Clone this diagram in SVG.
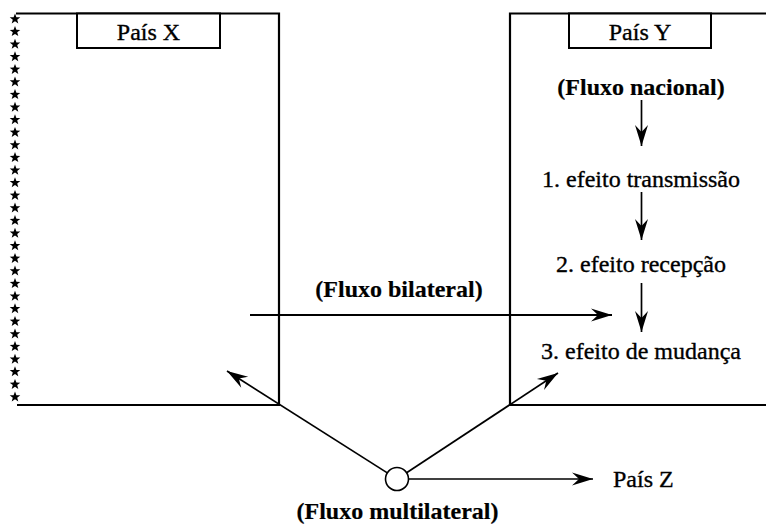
<svg xmlns="http://www.w3.org/2000/svg" xmlns:xlink="http://www.w3.org/1999/xlink" width="766" height="525" viewBox="0 0 766 525">
  <style>
    .frame { fill: none; stroke: #000; stroke-width: 2.2; }
    .tag { fill: #fff; stroke: #000; stroke-width: 2; }
    .txt { font-family: "Liberation Serif", "Times New Roman", serif; font-size: 24px; fill: #000; text-anchor: middle; stroke: #000; stroke-width: 0.35; }
    .bold { font-weight: bold; stroke-width: 0.2; }
    .arrow { fill: none; stroke: #000; stroke-width: 1.7; marker-end: url(#head); }
  </style>
  <defs>
    <marker id="head" markerUnits="userSpaceOnUse" markerWidth="24" markerHeight="16" viewBox="-22 -8 24 16" refX="0" refY="0" orient="auto">
      <path d="M0,0 L-21,-6.5 L-14,0 L-21,6.5 Z" fill="#000"/>
    </marker>
    <path id="star" d="M0,-5.5 L1.4,-1.8 L5.3,-1.7 L2.2,0.7 L3.3,4.5 L0,2.3 L-3.3,4.5 L-2.2,0.7 L-5.3,-1.7 L-1.4,-1.8 Z" fill="#000"/>
  </defs>

  <!-- Country X: open frame edged with a column of stars -->
  <g id="pais-x">
    <path class="frame" d="M16,13.5 H279 V405 H17"/>
    <rect class="tag" x="77" y="13.5" width="143" height="34.5"/>
    <text class="txt" x="148.5" y="40">País X</text>
    <g id="stars">
      <use xlink:href="#star" x="15" y="19"/>
      <use xlink:href="#star" x="15" y="31.6"/>
      <use xlink:href="#star" x="15" y="44.2"/>
      <use xlink:href="#star" x="15" y="56.8"/>
      <use xlink:href="#star" x="15" y="69.4"/>
      <use xlink:href="#star" x="15" y="82"/>
      <use xlink:href="#star" x="15" y="94.6"/>
      <use xlink:href="#star" x="15" y="107.2"/>
      <use xlink:href="#star" x="15" y="119.8"/>
      <use xlink:href="#star" x="15" y="132.4"/>
      <use xlink:href="#star" x="15" y="145"/>
      <use xlink:href="#star" x="15" y="157.6"/>
      <use xlink:href="#star" x="15" y="170.2"/>
      <use xlink:href="#star" x="15" y="182.8"/>
      <use xlink:href="#star" x="15" y="195.4"/>
      <use xlink:href="#star" x="15" y="208"/>
      <use xlink:href="#star" x="15" y="220.6"/>
      <use xlink:href="#star" x="15" y="233.2"/>
      <use xlink:href="#star" x="15" y="245.8"/>
      <use xlink:href="#star" x="15" y="258.4"/>
      <use xlink:href="#star" x="15" y="271"/>
      <use xlink:href="#star" x="15" y="283.6"/>
      <use xlink:href="#star" x="15" y="296.2"/>
      <use xlink:href="#star" x="15" y="308.8"/>
      <use xlink:href="#star" x="15" y="321.4"/>
      <use xlink:href="#star" x="15" y="334"/>
      <use xlink:href="#star" x="15" y="346.6"/>
      <use xlink:href="#star" x="15" y="359.2"/>
      <use xlink:href="#star" x="15" y="371.8"/>
      <use xlink:href="#star" x="15" y="384.4"/>
      <use xlink:href="#star" x="15" y="397"/>
    </g>
  </g>

  <!-- Country Y: frame running off the right edge -->
  <g id="pais-y">
    <path class="frame" d="M766,13.5 H510 V405 H766"/>
    <rect class="tag" x="569" y="13.5" width="142" height="34.5"/>
    <text class="txt" x="640" y="40">País Y</text>
  </g>

  <g id="fluxo-nacional">
    <text class="txt bold" x="641" y="95">(Fluxo nacional)</text>
  </g>
  <g id="efeito-transmissao">
    <text class="txt" x="641" y="187">1. efeito transmissão</text>
  </g>
  <g id="efeito-recepcao">
    <text class="txt" x="641" y="272">2. efeito recepção</text>
  </g>
  <g id="efeito-mudanca">
    <text class="txt" x="641" y="359">3. efeito de mudança</text>
  </g>

  <g id="fluxo-bilateral">
    <text class="txt bold" x="399" y="297">(Fluxo bilateral)</text>
  </g>

  <!-- Multilateral hub -->
  <g id="hub">
    <circle cx="397" cy="479" r="11.5" fill="#fff" stroke="#000" stroke-width="1.6"/>
  </g>
  <g id="fluxo-multilateral">
    <text class="txt bold" x="397.5" y="519">(Fluxo multilateral)</text>
  </g>
  <g id="pais-z">
    <text class="txt" x="613" y="487" style="text-anchor:start">País Z</text>
  </g>

  <g id="connectors">
    <path class="arrow" d="M641.5,100 V146"/>
    <path class="arrow" d="M641.5,192 V240"/>
    <path class="arrow" d="M641.5,283 V332"/>
    <path class="arrow" d="M250,315 H612" style="stroke-width:2"/>
    <path class="arrow" d="M387.3,472.9 L227,371"/>
    <path class="arrow" d="M406.6,472.7 L558,373"/>
    <path class="arrow" d="M408.5,479 H593"/>
  </g>
</svg>
